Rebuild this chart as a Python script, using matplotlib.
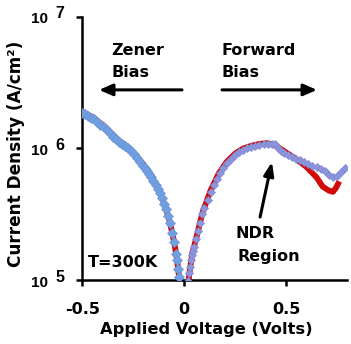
import numpy as np
import matplotlib
matplotlib.use('Agg')
import matplotlib.pyplot as plt

plt.rcParams['font.family'] = 'DejaVu Sans'
plt.rcParams['font.weight'] = 'bold'

# simulated points (diamonds), reverse (Zener) side
v_zener = [-0.50, -0.485, -0.47, -0.455, -0.44, -0.425, -0.41, -0.395, -0.38, -0.365,
           -0.35, -0.335, -0.32, -0.305, -0.29, -0.275, -0.26, -0.245, -0.23, -0.215,
           -0.20, -0.19, -0.18, -0.17, -0.16, -0.15, -0.14, -0.13, -0.12, -0.11,
           -0.10, -0.09, -0.08, -0.07, -0.06, -0.05, -0.04, -0.035, -0.03, -0.025]
logj_zener = [6.27, 6.26, 6.25, 6.235, 6.22, 6.20, 6.18, 6.16, 6.14, 6.115,
              6.09, 6.07, 6.05, 6.035, 6.02, 6.00, 5.98, 5.955, 5.93, 5.90,
              5.87, 5.85, 5.83, 5.805, 5.78, 5.75, 5.72, 5.69, 5.66, 5.62,
              5.58, 5.54, 5.49, 5.43, 5.36, 5.29, 5.20, 5.15, 5.08, 5.02]

# simulated points, forward side
v_fwd = [0.020, 0.025, 0.030, 0.035, 0.040, 0.045, 0.050, 0.060, 0.070, 0.080,
         0.090, 0.100, 0.115, 0.130, 0.145, 0.160, 0.175, 0.19, 0.21, 0.23,
         0.25, 0.27, 0.29, 0.31, 0.33, 0.35, 0.37, 0.39, 0.41, 0.43,
         0.445, 0.46, 0.475, 0.49, 0.51, 0.53, 0.55, 0.57, 0.59, 0.61,
         0.63, 0.65, 0.67, 0.69, 0.71, 0.73, 0.75, 0.77, 0.79]
logj_fwd = [4.99, 5.05, 5.10, 5.15, 5.19, 5.22, 5.25, 5.31, 5.37, 5.43,
            5.50, 5.55, 5.61, 5.67, 5.72, 5.77, 5.81, 5.85, 5.89, 5.92,
            5.95, 5.97, 5.99, 6.00, 6.01, 6.02, 6.025, 6.03, 6.03, 6.03,
            6.03, 6.00, 5.98, 5.965, 5.95, 5.935, 5.92, 5.91, 5.895, 5.885,
            5.87, 5.86, 5.845, 5.83, 5.80, 5.78, 5.79, 5.82, 5.85]

# measured curve (red line)
v_meas = [-0.50, -0.44, -0.38, -0.32, -0.26, -0.20, -0.16, -0.12, -0.09, -0.07,
          -0.05, -0.035, -0.025, -0.015, 0.015, 0.025, 0.04, 0.06, 0.09, 0.13,
          0.17, 0.21, 0.25, 0.29, 0.33, 0.37, 0.41, 0.45, 0.50, 0.55,
          0.60, 0.65, 0.68, 0.71, 0.73, 0.745, 0.755]
logj_meas = [6.28, 6.23, 6.15, 6.06, 5.99, 5.88, 5.79, 5.67, 5.55, 5.44,
             5.30, 5.16, 5.03, 4.80, 4.80, 5.04, 5.20, 5.32, 5.51, 5.68,
             5.81, 5.90, 5.96, 6.00, 6.02, 6.035, 6.04, 6.02, 5.97, 5.92,
             5.86, 5.78, 5.71, 5.68, 5.67, 5.70, 5.73]

yticks = [1e5, 1e6, 1e7]
yexp = ['5', '6', '7']
xticks = [-0.5, 0, 0.5]
xlabels = ['-0.5', '0', '0.5']

fig = plt.figure(figsize=(3.51, 3.44), dpi=100)
ax = fig.add_axes([0.234, 0.186, 0.755, 0.765])

ax.plot(v_meas, 10 ** np.array(logj_meas), color='#d20a0a', lw=4.2, zorder=2,
        solid_joinstyle='round')
ax.plot(v_zener, 10 ** np.array(logj_zener), 'D', ms=5.2, mfc='#70a0e2',
        mec='#6a93d8', mew=0.5, zorder=3)
ax.plot(v_fwd, 10 ** np.array(logj_fwd), 'D', ms=4.3, mfc='#8c95dc',
        mec='#7f88d0', mew=0.5, zorder=3)

ax.set_yscale('log')
ax.set_xlim(-0.5, 0.8)
ax.set_ylim(1e5, 1e7)
ax.set_yticks(yticks)
ax.minorticks_off()
ax.set_xticks(xticks)
ax.set_xticklabels(xlabels)

for s in ['top', 'right']:
    ax.spines[s].set_visible(False)
for s in ['left', 'bottom']:
    ax.spines[s].set_linewidth(1.8)
ax.tick_params(direction='out', length=4, width=1.8)
ax.tick_params(axis='y', labelleft=False)
ax.tick_params(axis='x', labelsize=11.5, pad=12)

# y tick labels: "10" with a separate, raised exponent
for t, e in zip(yticks, yexp):
    ax.annotate('10', xy=(0, t), xycoords=('axes fraction', 'data'),
                xytext=(-34, -6.5), textcoords='offset pixels',
                ha='right', va='baseline', fontsize=11,
                family='Liberation Sans', fontweight='bold')
    ax.annotate(e, xy=(0, t), xycoords=('axes fraction', 'data'),
                xytext=(-27, -1.5), textcoords='offset pixels',
                ha='left', va='baseline', fontsize=11.5,
                family='Liberation Sans', fontweight='bold')

ax.set_xlabel('Applied Voltage (Volts)', fontsize=11.7, fontweight='bold')
ax.xaxis.set_label_coords(0.470, -0.160)
ax.set_ylabel('Current Density (A/cm²)', fontsize=12.2, fontweight='bold')
ax.yaxis.set_label_coords(-0.215, 0.479)

fs = 11.5
ax.text(-0.358, 10 ** 6.711, 'Zener', fontsize=fs, fontweight='bold', ha='left', va='baseline')
ax.text(-0.358, 10 ** 6.544, 'Bias', fontsize=fs, fontweight='bold', ha='left', va='baseline')
ax.text(0.186, 10 ** 6.711, 'Forward', fontsize=fs, fontweight='bold', ha='left', va='baseline')
ax.text(0.186, 10 ** 6.544, 'Bias', fontsize=fs, fontweight='bold', ha='left', va='baseline')
ax.text(0.25, 10 ** 5.319, 'NDR', fontsize=fs, fontweight='bold', ha='left', va='baseline')
ax.text(0.26, 10 ** 5.144, 'Region', fontsize=fs, fontweight='bold', ha='left', va='baseline')
ax.text(-0.471, 10 ** 5.099, 'T=300K', fontsize=fs, fontweight='bold', ha='left', va='baseline')

ax.annotate('', xy=(-0.417, 10 ** 6.445), xytext=(-0.01, 10 ** 6.445),
            arrowprops=dict(arrowstyle='-|>,head_length=0.8,head_width=0.35',
                            color='black', lw=2.2, shrinkA=0, shrinkB=0))
ax.annotate('', xy=(0.652, 10 ** 6.445), xytext=(0.186, 10 ** 6.445),
            arrowprops=dict(arrowstyle='-|>,head_length=0.8,head_width=0.35',
                            color='black', lw=2.2, shrinkA=0, shrinkB=0))
ax.annotate('', xy=(0.431, 10 ** 5.897), xytext=(0.373, 10 ** 5.479),
            arrowprops=dict(arrowstyle='-|>,head_length=0.8,head_width=0.3',
                            color='black', lw=2.2, shrinkA=0, shrinkB=0))

fig.savefig('out.png', dpi=100)
